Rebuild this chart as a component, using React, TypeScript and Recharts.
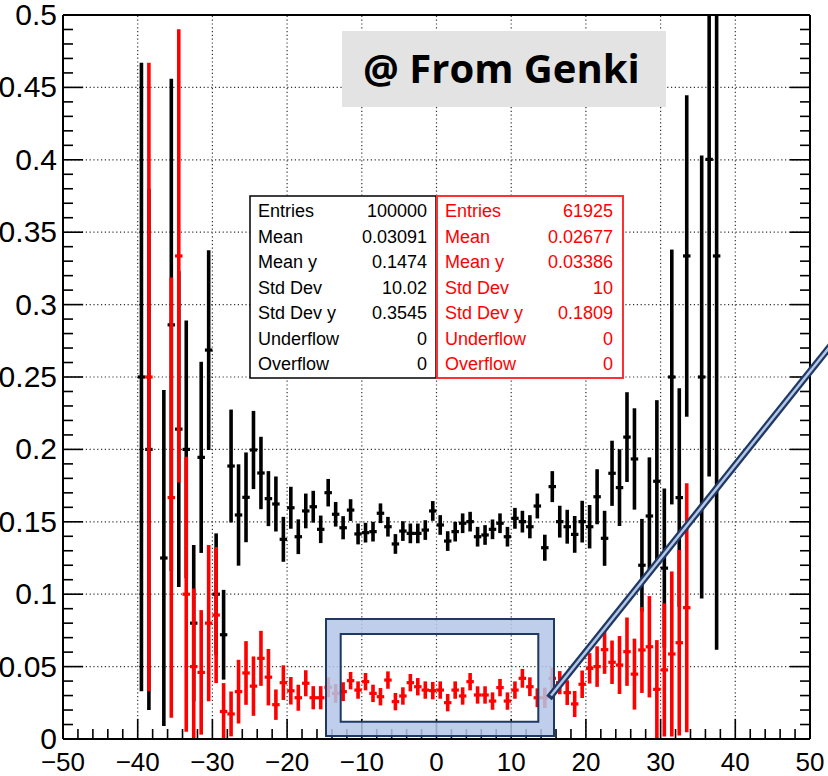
import React from 'react';
import { ComposedChart, Scatter, XAxis, YAxis, ErrorBar, ReferenceLine } from 'recharts';

// ---------- data (bin centers, profile means, errors) ----------
const blackX = [-39.5, -38.5, -36.5, -35.5, -34.5, -33.5, -32.5, -31.5, -30.5, -29.5, -28.5, -27.5, -26.5, -25.5, -24.5, -23.5, -22.5, -21.5, -20.5, -19.5, -18.5, -17.5, -16.5, -15.5, -14.5, -13.5, -12.5, -11.5, -10.5, -9.5, -8.5, -7.5, -6.5, -5.5, -4.5, -3.5, -2.5, -1.5, -0.5, 0.5, 1.5, 2.5, 3.5, 4.5, 5.5, 6.5, 7.5, 8.5, 9.5, 10.5, 11.5, 12.5, 13.5, 14.5, 15.5, 16.5, 17.5, 18.5, 19.5, 20.5, 21.5, 22.5, 23.5, 24.5, 25.5, 26.5, 27.5, 28.5, 29.5, 30.5, 31.5, 32.5, 33.5, 35.5, 36.5, 37.5];
const blackMean = [0.25, 0.2, 0.125, 0.286, 0.214, 0.2, 0.08, 0.1945, 0.2686, 0.1, 0.072, 0.1885, 0.1547, 0.1669, 0.1996, 0.1837, 0.166, 0.1623, 0.1379, 0.1597, 0.1397, 0.1575, 0.1604, 0.1448, 0.1701, 0.1552, 0.1459, 0.1581, 0.1416, 0.1425, 0.1432, 0.1559, 0.1466, 0.1347, 0.1436, 0.142, 0.142, 0.1443, 0.1575, 0.1478, 0.1367, 0.1432, 0.149, 0.1501, 0.1397, 0.1409, 0.1448, 0.149, 0.1397, 0.1524, 0.1501, 0.1466, 0.1609, 0.1321, 0.1743, 0.1501, 0.1466, 0.1413, 0.1501, 0.1466, 0.1673, 0.1386, 0.1835, 0.1736, 0.2085, 0.1934, 0.12, 0.154, 0.178, 0.118, 0.25, 0.1667, 0.3336, 0.25, 0.4003, 0.3336];
const blackErr = [0.217, 0.18, 0.116, 0.17, 0.109, 0.089, 0.054, 0.066, 0.069, 0.042, 0.031, 0.039, 0.035, 0.031, 0.027, 0.025, 0.019, 0.019, 0.0155, 0.0145, 0.012, 0.012, 0.011, 0.0095, 0.0095, 0.0085, 0.008, 0.0075, 0.0072, 0.0068, 0.0068, 0.0068, 0.0068, 0.0068, 0.0068, 0.0068, 0.0068, 0.0068, 0.0068, 0.0068, 0.0068, 0.0068, 0.0068, 0.0068, 0.0068, 0.0068, 0.0068, 0.0068, 0.0068, 0.0072, 0.0075, 0.008, 0.0086, 0.009, 0.0107, 0.011, 0.0117, 0.0127, 0.0144, 0.015, 0.019, 0.019, 0.0225, 0.0265, 0.031, 0.035, 0.032, 0.0405, 0.056, 0.055, 0.088, 0.0755, 0.111, 0.153, 0.219, 0.272];

const redX = [-38.5, -35.5, -34.5, -33.5, -32.5, -31.5, -30.5, -29.5, -28.5, -27.5, -26.5, -25.5, -24.5, -23.5, -22.5, -21.5, -20.5, -19.5, -18.5, -17.5, -16.5, -15.5, -14.5, -13.5, -12.5, -11.5, -10.5, -9.5, -8.5, -7.5, -6.5, -5.5, -4.5, -3.5, -2.5, -1.5, -0.5, 0.5, 1.5, 2.5, 3.5, 4.5, 5.5, 6.5, 7.5, 8.5, 9.5, 10.5, 11.5, 12.5, 13.5, 14.5, 15.5, 16.5, 17.5, 18.5, 19.5, 20.5, 21.5, 22.5, 23.5, 24.5, 25.5, 26.5, 27.5, 28.5, 29.5, 30.5, 31.5, 32.5, 33.5];
const redMean = [0.25, 0.1667, 0.3336, 0.1, 0.05, 0.046, 0.08, 0.0856, 0.019, 0.0173, 0.0327, 0.0456, 0.0365, 0.0557, 0.0427, 0.0237, 0.0389, 0.0333, 0.0285, 0.0385, 0.0285, 0.0285, 0.0357, 0.0315, 0.0327, 0.0403, 0.0338, 0.0396, 0.0315, 0.0292, 0.0407, 0.0258, 0.0297, 0.0389, 0.0361, 0.0338, 0.0334, 0.0338, 0.0251, 0.0338, 0.0297, 0.0396, 0.0304, 0.0304, 0.0262, 0.0355, 0.0262, 0.0338, 0.0419, 0.0361, 0.0285, 0.0285, 0.0419, 0.0389, 0.032, 0.0242, 0.0378, 0.0488, 0.05, 0.0617, 0.053, 0.0511, 0.0603, 0.0448, 0.0615, 0.0637, 0.0343, 0.0477, 0.0587, 0.0665, 0.0907];
const redErr = [0.217, 0.152, 0.1565, 0.095, 0.054, 0.043, 0.054, 0.047, 0.0196, 0.0155, 0.022, 0.022, 0.0205, 0.019, 0.0195, 0.0105, 0.012, 0.0095, 0.009, 0.009, 0.008, 0.008, 0.0068, 0.0065, 0.0065, 0.006, 0.006, 0.006, 0.006, 0.006, 0.006, 0.006, 0.006, 0.006, 0.006, 0.006, 0.006, 0.006, 0.006, 0.006, 0.006, 0.006, 0.006, 0.006, 0.006, 0.006, 0.006, 0.006, 0.0065, 0.0065, 0.0065, 0.007, 0.0075, 0.008, 0.0085, 0.009, 0.0095, 0.0105, 0.014, 0.0167, 0.015, 0.02, 0.0236, 0.0245, 0.0297, 0.035, 0.034, 0.046, 0.057, 0.064, 0.086];

const binHalfWidth = 0.5;

// ---------- axes ----------
const xDomain: [number, number] = [-50, 50];
const yDomain: [number, number] = [0, 0.5];
const xMajorTicks = [-50, -40, -30, -20, -10, 0, 10, 20, 30, 40, 50];
const xTickLabels = ['\u221250', '\u221240', '\u221230', '\u221220', '\u221210', '0', '10', '20', '30', '40', '50'];
const yMajorTicks = [0, 0.05, 0.1, 0.15, 0.2, 0.25, 0.3, 0.35, 0.4, 0.45, 0.5];
const yTickLabels = ['0', '0.05', '0.1', '0.15', '0.2', '0.25', '0.3', '0.35', '0.4', '0.45', '0.5'];
const xAllTicks: number[] = [];
for (let i = 0; i <= 50; i++) xAllTicks.push(-50 + 2 * i);
const yAllTicks: number[] = [];
for (let i = 0; i <= 50; i++) yAllTicks.push(i / 100);

// ---------- stats ----------
const statLabels = ['Entries', 'Mean', 'Mean y', 'Std Dev', 'Std Dev y', 'Underflow', 'Overflow'];
const blackStats = ['100000', '0.03091', '0.1474', '10.02', '0.3545', '0', '0'];
const redStats = ['61925', '0.02677', '0.03386', '10', '0.1809', '0', '0'];

// error bars are cut at the frame, as the drawing pad does
const clipErr = (m: number, e: number) => [Math.min(e, m - yDomain[0]), Math.min(e, yDomain[1] - m)];
const blackData = blackX.map((x, i) => ({ x, y: blackMean[i], ey: clipErr(blackMean[i], blackErr[i]), ex: binHalfWidth }));
const redData = redX.map((x, i) => ({ x, y: redMean[i], ey: clipErr(redMean[i], redErr[i]), ex: binHalfWidth }));

const FONT = '"Liberation Sans", Arial, Helvetica, sans-serif';
const MAJ = 20;
const MIN = 10;
const TICK_W = 1.6;

const findIdx = (arr: number[], v: number) => arr.findIndex((m) => Math.abs(m - v) < 1e-6);

const BottomTick = (p: any) => {
  const { x, y, payload } = p;
  const i = findIdx(xMajorTicks, payload.value);
  const len = i >= 0 ? MAJ : MIN;
  return (
    <g>
      <line x1={x} x2={x} y1={y} y2={y - len} stroke="#000" strokeWidth={TICK_W} />
      {i >= 0 && (
        <text x={x} y={y + 32} textAnchor="middle" fontFamily={FONT} fontSize={26} fill="#000">
          {xTickLabels[i]}
        </text>
      )}
    </g>
  );
};

const TopTick = (p: any) => {
  const { x, y, payload } = p;
  const i = findIdx(xMajorTicks, payload.value);
  const len = i >= 0 ? MAJ : MIN;
  return <line x1={x} x2={x} y1={y} y2={y + len} stroke="#000" strokeWidth={TICK_W} />;
};

const LeftTick = (p: any) => {
  const { x, y, payload } = p;
  const i = findIdx(yMajorTicks, payload.value);
  const len = i >= 0 ? MAJ : MIN;
  return (
    <g>
      <line x1={x} x2={x + len} y1={y} y2={y} stroke="#000" strokeWidth={TICK_W} />
      {i >= 0 && (
        <text x={x - 6} y={y + 10} textAnchor="end" fontFamily={FONT} fontSize={30} fill="#000">
          {yTickLabels[i]}
        </text>
      )}
    </g>
  );
};

const RightTick = (p: any) => {
  const { x, y, payload } = p;
  const i = findIdx(yMajorTicks, payload.value);
  const len = i >= 0 ? MAJ : MIN;
  return <line x1={x} x2={x - len} y1={y} y2={y} stroke="#000" strokeWidth={TICK_W} />;
};

const noShape = () => <g />;

const NAVY = '#1f3864';
const LIGHTBLUE = '#b4c7e7';

const Overlay = () => {
  const rowY = [216.5, 242.5, 268, 293.5, 318.5, 344.5, 370];
  return (
    <svg width={828} height={776} style={{ position: 'absolute', left: 0, top: 0, pointerEvents: 'none' }}>
      {/* Genki label */}
      <rect x={342} y={31} width={324} height={76} fill="#e3e3e3" />
      <text x={363} y={83} fontFamily='"Open Sans", sans-serif' fontWeight={700} fontSize={40} fill="#000">
        @ From Genki
      </text>
      {/* stats boxes */}
      <rect x={250} y={196} width={186} height={182} fill="#fff" stroke="#000" strokeWidth={1.5} />
      <rect x={437} y={196} width={186} height={182} fill="#fff" stroke="#ff3030" strokeWidth={2} />
      {statLabels.map((l, i) => (
        <g key={l}>
          <text x={258} y={rowY[i]} fontFamily={FONT} fontSize={18} fill="#000">{l}</text>
          <text x={427} y={rowY[i]} fontFamily={FONT} fontSize={18} fill="#000" textAnchor="end">{blackStats[i]}</text>
          <text x={445} y={rowY[i]} fontFamily={FONT} fontSize={18} fill="#ff0000">{l}</text>
          <text x={613} y={rowY[i]} fontFamily={FONT} fontSize={18} fill="#ff0000" textAnchor="end">{redStats[i]}</text>
        </g>
      ))}
      {/* highlight frame */}
      <path
        d="M326 619 H554 V736 H326 Z M340.7 634 V721.7 H538.3 V634 Z"
        fill={LIGHTBLUE}
        fillOpacity={0.85}
        fillRule="evenodd"
        stroke={NAVY}
        strokeWidth={2}
      />
      {/* pointer line */}
      <line x1={549} y1={698} x2={840} y2={334} stroke={NAVY} strokeWidth={7} />
      <line x1={551} y1={695.5} x2={840} y2={334} stroke={LIGHTBLUE} strokeWidth={2.5} />
    </svg>
  );
};

export default function App() {
  return (
    <div style={{ position: 'absolute', left: 0, top: 0, width: 828, height: 776, background: '#fff', overflow: 'hidden' }}>
      <ComposedChart width={828} height={776} margin={{ top: 0, right: 0, bottom: 0, left: 0 }}>
        <XAxis
          xAxisId={0}
          type="number"
          dataKey="x"
          domain={xDomain}
          ticks={xAllTicks}
          interval={0}
          allowDataOverflow
          tickLine={false}
          tickSize={0}
          tickMargin={0}
          height={37}
          axisLine={{ stroke: '#000', strokeWidth: 2 }}
          tick={(p: any) => <BottomTick {...p} />}
        />
        <XAxis
          xAxisId="top"
          orientation="top"
          type="number"
          domain={xDomain}
          ticks={xAllTicks}
          interval={0}
          allowDataOverflow
          tickLine={false}
          tickSize={0}
          tickMargin={0}
          height={15}
          axisLine={{ stroke: '#000', strokeWidth: 2 }}
          tick={(p: any) => <TopTick {...p} />}
        />
        <YAxis
          yAxisId={0}
          type="number"
          dataKey="y"
          domain={yDomain}
          ticks={yAllTicks}
          interval={0}
          allowDataOverflow
          tickLine={false}
          tickSize={0}
          tickMargin={0}
          width={63}
          axisLine={{ stroke: '#000', strokeWidth: 2 }}
          tick={(p: any) => <LeftTick {...p} />}
        />
        <YAxis
          yAxisId="right"
          orientation="right"
          type="number"
          domain={yDomain}
          ticks={yAllTicks}
          interval={0}
          allowDataOverflow
          tickLine={false}
          tickSize={0}
          tickMargin={0}
          width={18}
          axisLine={{ stroke: '#000', strokeWidth: 2 }}
          tick={(p: any) => <RightTick {...p} />}
        />
        {xMajorTicks.slice(1, -1).map((v) => (
          <ReferenceLine key={'gx' + v} x={v} stroke="#333" strokeWidth={1.2} strokeDasharray="1.2 2.6" />
        ))}
        {yMajorTicks.slice(1, -1).map((v) => (
          <ReferenceLine key={'gy' + v} y={v} stroke="#333" strokeWidth={1.2} strokeDasharray="1.2 2.6" />
        ))}
        <Scatter data={blackData} dataKey="y" fill="#000" shape={noShape} isAnimationActive={false}>
          <ErrorBar dataKey="ey" direction="y" width={0} stroke="#000" strokeWidth={3.6} />
          <ErrorBar dataKey="ex" direction="x" width={0} stroke="#000" strokeWidth={3.2} />
        </Scatter>
        <Scatter data={redData} dataKey="y" fill="#ff0000" shape={noShape} isAnimationActive={false}>
          <ErrorBar dataKey="ey" direction="y" width={0} stroke="#ff0000" strokeWidth={3.6} />
          <ErrorBar dataKey="ex" direction="x" width={0} stroke="#ff0000" strokeWidth={3.2} />
        </Scatter>
      </ComposedChart>
      <Overlay />
    </div>
  );
}
